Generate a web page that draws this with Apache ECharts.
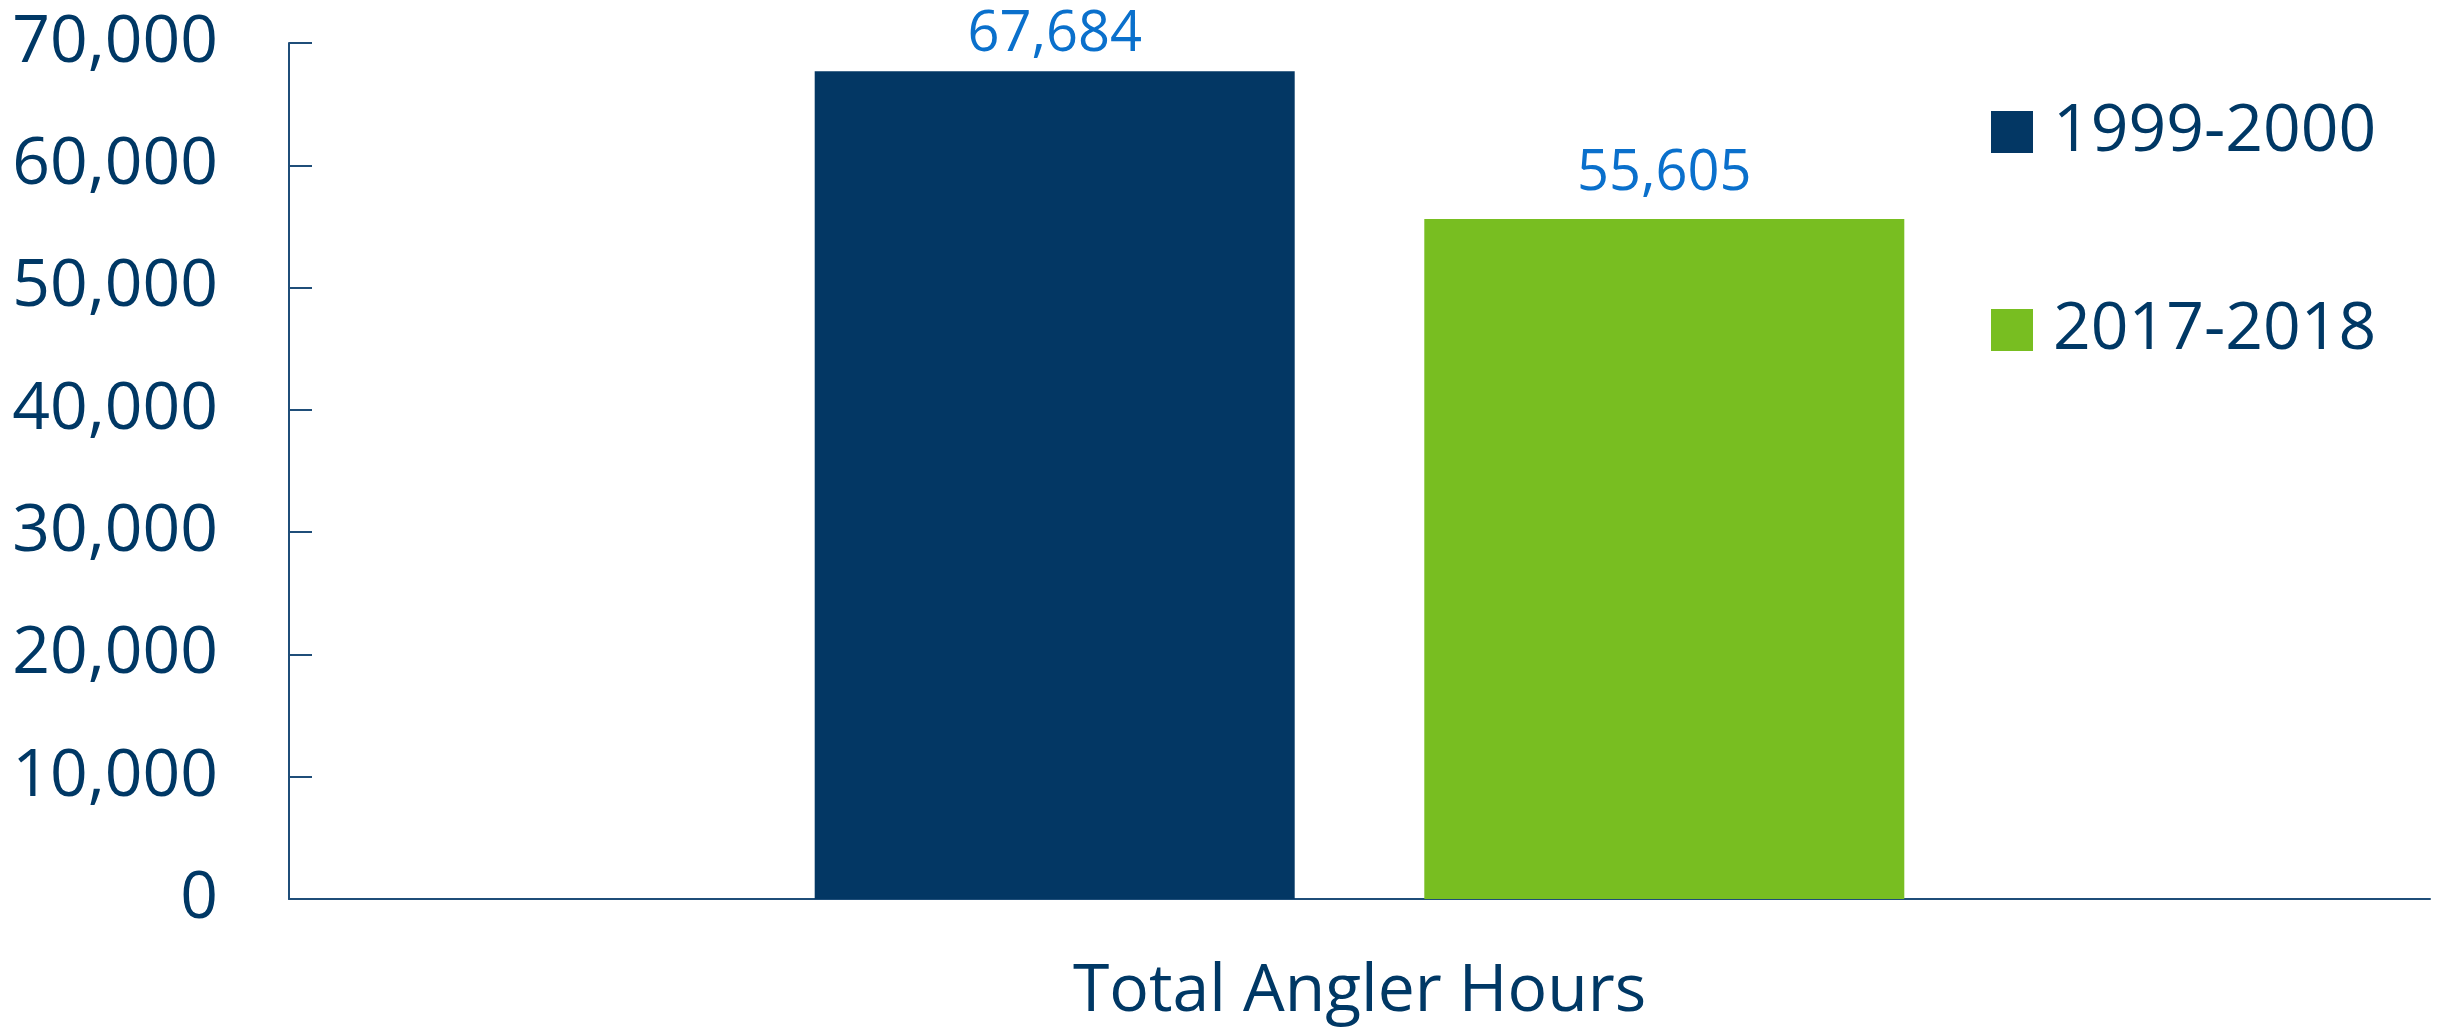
<!DOCTYPE html>
<html>
<head>
<meta charset="utf-8">
<title>Total Angler Hours</title>
<script src="https://cdn.jsdelivr.net/npm/echarts@6/dist/echarts.min.js"></script>
<style>
    html, body { margin: 0; padding: 0; background: #ffffff; }
    #chart { width: 2440px; height: 1029px; }
</style>
</head>
<body>
<div id="chart"></div>
<script>
// chart data
var categories = ['Total Angler Hours']
var seriesNames = ['1999-2000', '2017-2018']
var hours1999 = [67684]
var hours2017 = [55605]
var yTicks = [0, 10000, 20000, 30000, 40000, 50000, 60000, 70000]

var navy = '#003865'
var axisColor = '#1f4e79'

var chart = echarts.init(document.getElementById('chart'))

function fmt(v) {
    return v.toLocaleString('en-US')
}

chart.setOption({
    animation: false,
    textStyle: {
        fontFamily: 'Open Sans'
    },
    grid: {
        left: 289,
        right: 10,
        top: 43,
        bottom: 130,
        containLabel: false
    },
    legend: {
        orient: 'vertical',
        left: 1986,
        top: 94,
        itemWidth: 42,
        itemHeight: 42,
        itemGap: 132,
        icon: 'rect',
        data: seriesNames,
        textStyle: {
            color: navy,
            fontSize: 66,
            padding: [0, 0, 0, 15]
        }
    },
    xAxis: {
        type: 'category',
        data: categories,
        axisTick: { show: false },
        axisLine: {
            lineStyle: { color: axisColor, width: 2 }
        },
        axisLabel: {
            color: navy,
            fontSize: 66,
            lineHeight: 66,
            margin: 60
        }
    },
    yAxis: {
        type: 'value',
        min: yTicks[0],
        max: yTicks[yTicks.length - 1],
        interval: 10000,
        splitLine: { show: false },
        axisLine: {
            show: true,
            lineStyle: { color: axisColor, width: 2 }
        },
        axisTick: {
            show: true,
            inside: true,
            length: 23,
            lineStyle: { color: axisColor, width: 2 }
        },
        axisLabel: {
            color: navy,
            fontSize: 66,
            margin: 71,
            formatter: function (v) { return fmt(v) }
        }
    },
    series: [{
        name: seriesNames[0],
        type: 'bar',
        barWidth: 480,
        barGap: '27%',
        itemStyle: { color: '#033764' },
        label: {
            show: true,
            position: 'top',
            distance: 8,
            color: '#0a70cc',
            fontSize: 56,
            lineHeight: 56,
            formatter: function (p) { return fmt(p.value) }
        },
        data: hours1999
    },
    {
        name: seriesNames[1],
        type: 'bar',
        barWidth: 480,
        barGap: '27%',
        itemStyle: { color: '#78be21' },
        label: {
            show: true,
            position: 'top',
            distance: 17,
            color: '#0a70cc',
            fontSize: 56,
            lineHeight: 56,
            formatter: function (p) { return fmt(p.value) }
        },
        data: hours2017
    }]
})
</script>
</body>
</html>
